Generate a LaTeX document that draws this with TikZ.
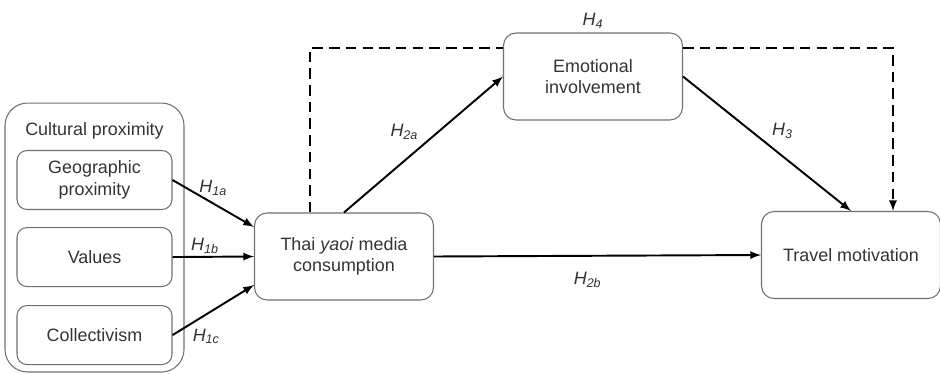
\documentclass[tikz,border=0pt]{standalone}
\usepackage{fontspec}
\setmainfont{Liberation Sans}
\usepackage{tikz}
\usetikzlibrary{arrows, calc, positioning}

\definecolor{boxline}{HTML}{707070}
\definecolor{boxtext}{HTML}{333333}

\newcommand{\hyp}[1]{\textit{H\textsubscript{#1}}}

\begin{document}
\begin{tikzpicture}[>=latex, x=0.02cm, y=-0.02cm, align=center,
    font=\fontsize{10.2}{12.2}\selectfont, text=boxtext,
    smallbox/.style={draw=boxline, line width=0.6pt, rounded corners=0.2cm,
      minimum width=3.1cm, minimum height=1.18cm},
    bigbox/.style={draw=boxline, line width=0.6pt, rounded corners=0.25cm,
      minimum width=3.58cm, minimum height=1.74cm},
    path/.style={->, line width=1.1pt},
    mediator/.style={->, line width=1.1pt, dash pattern=on 6pt off 3.5pt},
    hlabel/.style={text=boxtext, inner sep=1pt}]
  \useasboundingbox (0,0) rectangle (940,373);

  % cultural proximity block
  \node[draw=boxline, line width=0.6pt, rounded corners=0.45cm,
    minimum width=3.58cm, minimum height=5.38cm] (cult) at (94.5,237.5) {};
  \node (culttitle) at ($(cult.north)+(0,-0.56cm)$) {Cultural proximity};
  \node[smallbox] (geo) at (94.5,180) {Geographic\\proximity};
  \node[smallbox, below=0.34cm of geo] (val) {Values};
  \node[smallbox, below=0.36cm of val] (col) {Collectivism};

  % main constructs
  \node[bigbox] (thai) at (344,256.5) {Thai \textit{yaoi} media\\consumption};
  \node[bigbox] (emo) at (593,76.5) {Emotional\\involvement};
  \node[bigbox] (travel) at (851,255) {Travel motivation};

  \draw[path] (geo.east) -- node[hlabel, pos=0.5, above=3pt] {\hyp{1a}}
    ($(thai.west)+(0,0.59cm)$);
  \draw[path] (val.east) -- node[hlabel, pos=0.4, above] {\hyp{1b}} (thai.west);
  \draw[path] (col.east) -- node[hlabel, pos=0.2, below right=1pt] {\hyp{1c}}
    ($(thai.west)+(0,-0.57cm)$);

  \draw[path] (thai.north) -- node[hlabel, pos=0.5, above left=2pt] {\hyp{2a}} (emo.west);
  \draw[path] (thai.east) -- node[hlabel, pos=0.47, below=8pt] {\hyp{2b}} (travel.west);
  \draw[path] (emo.east) -- node[hlabel, pos=0.5, above right=2pt] {\hyp{3}} (travel.north);

  % indirect path through emotional involvement
  \draw[mediator, -] ($(thai.north)+(-0.68cm,0)$) |- ($(emo.west)+(0,0.57cm)$);
  \draw[mediator] ($(emo.east)+(0,0.57cm)$) -| ($(travel.north)+(0.84cm,0)$);
  \node[hlabel, above=1pt of emo] (h4) {\hyp{4}};
\end{tikzpicture}
\end{document}
